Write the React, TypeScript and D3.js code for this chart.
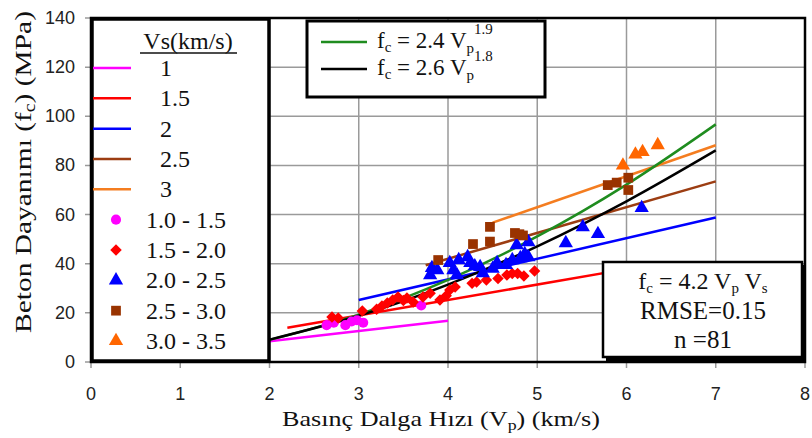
import React from "react";
import * as d3 from "d3";

// Vs fit lines: fc = 4.2 * Vp * Vs, read at their two ends
const vsLabels = ["1", "1.5", "2", "2.5", "3"];
const vsColors = ["#ff00ff", "#ff0000", "#0000ff", "#9c3d12", "#f47d20"];
const vsLineVp = [
  [2.0, 4.0],
  [2.2, 6.0],
  [3.0, 7.0],
  [3.75, 7.0],
  [4.5, 7.0],
];
const vsLineFc = [
  [8.4, 16.8],
  [13.9, 37.8],
  [25.2, 58.8],
  [39.4, 73.5],
  [56.7, 88.2],
];

// power curves
const curveVp = [2, 3, 4, 5, 6, 7];
const greenFc = [9.0, 19.3, 33.4, 51.1, 72.2, 96.7];
const blackFc = [9.1, 18.8, 31.5, 47.1, 65.4, 86.1];

// measured points, grouped by Vs range
const rangeLabels = ["1.0 - 1.5", "1.5 - 2.0", "2.0 - 2.5", "2.5 - 3.0", "3.0 - 3.5"];
const rangeColors = ["#ff00ff", "#ff0000", "#0000ff", "#993300", "#ff6600"];
const rangeShapes = ["circle", "diamond", "triangle", "square", "triangle"];

const pts10: [number, number][] = [
  [2.64, 15], [2.72, 16], [2.85, 15], [2.92, 16.5], [2.98, 17], [3.05, 16], [3.7, 23],
];
const pts15: [number, number][] = [
  [2.7, 18.3], [2.77, 17.9], [3.04, 20.8], [3.2, 21.5], [3.26, 22.8], [3.32, 24],
  [3.38, 25.2], [3.44, 26.5], [3.5, 25], [3.54, 26], [3.61, 24.4], [3.72, 26.5],
  [3.8, 28], [3.91, 25.2], [3.98, 27], [4.02, 29.3], [4.08, 30.5], [4.27, 32],
  [4.32, 32.6], [4.43, 33.4], [4.56, 34], [4.66, 35.4], [4.72, 36], [4.78, 36],
  [4.85, 35], [4.97, 37],
];
const pts20: [number, number][] = [
  [3.8, 35.4], [3.82, 38.3], [3.88, 37.4], [4.02, 40.3], [4.06, 37.4], [4.1, 35.4],
  [4.12, 41.5], [4.22, 42.7], [4.25, 40.3], [4.3, 39], [4.36, 38.7], [4.39, 36.2],
  [4.5, 38], [4.55, 40.3], [4.65, 39.5], [4.72, 41.5], [4.77, 47.6], [4.81, 42.3],
  [4.86, 44], [4.9, 48.8], [4.9, 42.7], [5.32, 48.4], [5.51, 54.9], [5.68, 52.1],
  [6.17, 62.7],
];
const pts25: [number, number][] = [
  [3.89, 41.5], [4.28, 48], [4.47, 55], [4.47, 49], [4.75, 52.5], [4.8, 52],
  [4.84, 51.5], [5.79, 72], [5.89, 73], [6.02, 75], [6.02, 70],
];
const pts30: [number, number][] = [
  [5.96, 80], [6.1, 84.5], [6.18, 85.5], [6.35, 88.3],
];
const pointGroups = [pts10, pts15, pts20, pts25, pts30];

const xTicks = [0, 1, 2, 3, 4, 5, 6, 7, 8];
const yTicks = [0, 20, 40, 60, 80, 100, 120, 140];

const serif = "Liberation Serif";
const sans = "Liberation Sans";

function symbolPath(shape: string) {
  if (shape === "circle") return d3.symbol(d3.symbolCircle, 80)()!;
  if (shape === "square") return d3.symbol(d3.symbolSquare, 95)()!;
  if (shape === "diamond") return d3.symbol(d3.symbolSquare, 66)()!;
  return d3.symbol(d3.symbolTriangle, 88)()!;
}

function Marker({ shape, color, cx, cy }: { shape: string; color: string; cx: number; cy: number }) {
  const rot = shape === "diamond" ? " rotate(45)" : "";
  return <path d={symbolPath(shape)} transform={`translate(${cx},${cy})${rot}`} fill={color} />;
}

export default function App() {
  const W = 812;
  const H = 438;
  const x = d3.scaleLinear().domain([0, 8]).range([91, 805]);
  const y = d3.scaleLinear().domain([0, 140]).range([362, 18]);
  const line = d3
    .line<[number, number]>()
    .x((d) => x(d[0]))
    .y((d) => y(d[1]));
  const smooth = d3
    .line<[number, number]>()
    .x((d) => x(d[0]))
    .y((d) => y(d[1]))
    .curve(d3.curveMonotoneX);
  const rowY = d3.scaleLinear().domain([0, 9]).range([68, 341]);

  return (
    <svg
      width={W}
      height={H}
      style={{ position: "absolute", left: 0, top: 0, background: "#fff" }}
    >
      {/* grid */}
      {xTicks.map((t) => (
        <line key={"gx" + t} x1={x(t)} x2={x(t)} y1={y(140)} y2={y(0) + 6} stroke="#9a9a9a" strokeWidth={1.5} />
      ))}
      {yTicks.map((t) => (
        <line key={"gy" + t} x1={x(0) - 6} x2={x(8)} y1={y(t)} y2={y(t)} stroke="#9a9a9a" strokeWidth={1.5} />
      ))}

      {/* tick labels */}
      {yTicks.map((t) => (
        <text key={"ty" + t} x={75} y={y(t) + 6} textAnchor="end" fontFamily={sans} fontSize={18} fill="#222">
          {t}
        </text>
      ))}
      {xTicks.map((t) => (
        <text key={"tx" + t} x={x(t)} y={400} textAnchor="middle" fontFamily={sans} fontSize={18} fill="#222">
          {t}
        </text>
      ))}

      {/* Vs lines */}
      {vsLineVp.map((vp, i) => (
        <path
          key={"vs" + i}
          d={line([
            [vp[0], vsLineFc[i][0]],
            [vp[1], vsLineFc[i][1]],
          ])!}
          stroke={vsColors[i]}
          strokeWidth={2.5}
          fill="none"
        />
      ))}
      <path d={smooth(curveVp.map((v, i) => [v, greenFc[i]] as [number, number]))!} stroke="#1f8c1f" strokeWidth={2.5} fill="none" />
      <path d={smooth(curveVp.map((v, i) => [v, blackFc[i]] as [number, number]))!} stroke="#000" strokeWidth={2.5} fill="none" />

      {/* points */}
      {pointGroups.map((g, gi) =>
        g.map((p, pi) => (
          <Marker key={`p${gi}-${pi}`} shape={rangeShapes[gi]} color={rangeColors[gi]} cx={x(p[0])} cy={y(p[1])} />
        ))
      )}

      {/* plot frame */}
      <rect x={x(0)} y={y(140)} width={x(8) - x(0)} height={y(0) - y(140)} fill="none" stroke="#000" strokeWidth={2.5} />

      {/* Vs legend */}
      <rect x={92} y={19} width={177} height={342} fill="#fff" stroke="#000" strokeWidth={3.5} />
      <text x={188} y={49} textAnchor="middle" fontFamily={serif} fontSize={24} fill="#111">
        Vs(km/s)
      </text>
      <line x1={140} x2={237} y1={53} y2={53} stroke="#111" strokeWidth={1.5} />
      {vsLabels.map((l, i) => (
        <g key={"lv" + i}>
          <line x1={93} x2={131} y1={rowY(i)} y2={rowY(i)} stroke={vsColors[i]} strokeWidth={2.5} />
          <text x={160} y={rowY(i) + 8} fontFamily={serif} fontSize={24} fill="#111">
            {l}
          </text>
        </g>
      ))}
      {rangeLabels.map((l, i) => (
        <g key={"lr" + i}>
          <Marker shape={rangeShapes[i]} color={rangeColors[i]} cx={116} cy={rowY(i + 5)} />
          <text x={146} y={rowY(i + 5) + 8} fontFamily={serif} fontSize={24} fill="#111">
            {l}
          </text>
        </g>
      ))}

      {/* equation legend */}
      <rect x={307} y={21} width={238} height={76} fill="#fff" stroke="#000" strokeWidth={3} />
      <line x1={321} x2={367} y1={42} y2={42} stroke="#1f8c1f" strokeWidth={2.5} />
      <line x1={321} x2={367} y1={69} y2={69} stroke="#000" strokeWidth={2.5} />
      {[
        ["2.4", "1.9", 48],
        ["2.6", "1.8", 75],
      ].map(([a, b, yy]) => (
        <text key={a as string} x={377} y={yy as number} fontFamily={serif} fontSize={23} fill="#111">
          f<tspan fontSize={15} dy={4}>c</tspan>
          <tspan dy={-4}>{` = ${a} V`}</tspan>
          <tspan fontSize={15} dy={5}>p</tspan>
          <tspan fontSize={15} dy={-19}>{b}</tspan>
        </text>
      ))}

      {/* fit box */}
      <rect x={606} y={265} width={199} height={96} fill="#000" />
      <rect x={603} y={262} width={199} height={95} fill="#fff" stroke="#000" strokeWidth={2.5} />
      <text x={703} y={289} textAnchor="middle" fontFamily={serif} fontSize={24} fill="#111">
        f<tspan fontSize={15} dy={4}>c</tspan>
        <tspan dy={-4}> = 4.2 V</tspan>
        <tspan fontSize={15} dy={4}>p</tspan>
        <tspan dy={-4}> V</tspan>
        <tspan fontSize={15} dy={4}>s</tspan>
      </text>
      <text x={703} y={319} textAnchor="middle" fontFamily={serif} fontSize={25} fill="#111">
        RMSE=0.15
      </text>
      <text x={703} y={348} textAnchor="middle" fontFamily={serif} fontSize={25} fill="#111">
        n =81
      </text>

      {/* axis titles */}
      <text x={441} y={426} textAnchor="middle" fontFamily={serif} fontSize={22} fill="#111" textLength={318} lengthAdjust="spacingAndGlyphs">
        Basınç Dalga Hızı (V<tspan fontSize={15} dy={4}>p</tspan>
        <tspan dy={-4}>) (km/s)</tspan>
      </text>
      <text
        transform="translate(31,172) rotate(-90)"
        textAnchor="middle"
        fontFamily={serif}
        fontSize={24}
        fill="#111"
        textLength={322}
        lengthAdjust="spacingAndGlyphs"
      >
        Beton Dayanımı (f<tspan fontSize={16} dy={4}>c</tspan>
        <tspan dy={-4}>) (MPa)</tspan>
      </text>
    </svg>
  );
}
